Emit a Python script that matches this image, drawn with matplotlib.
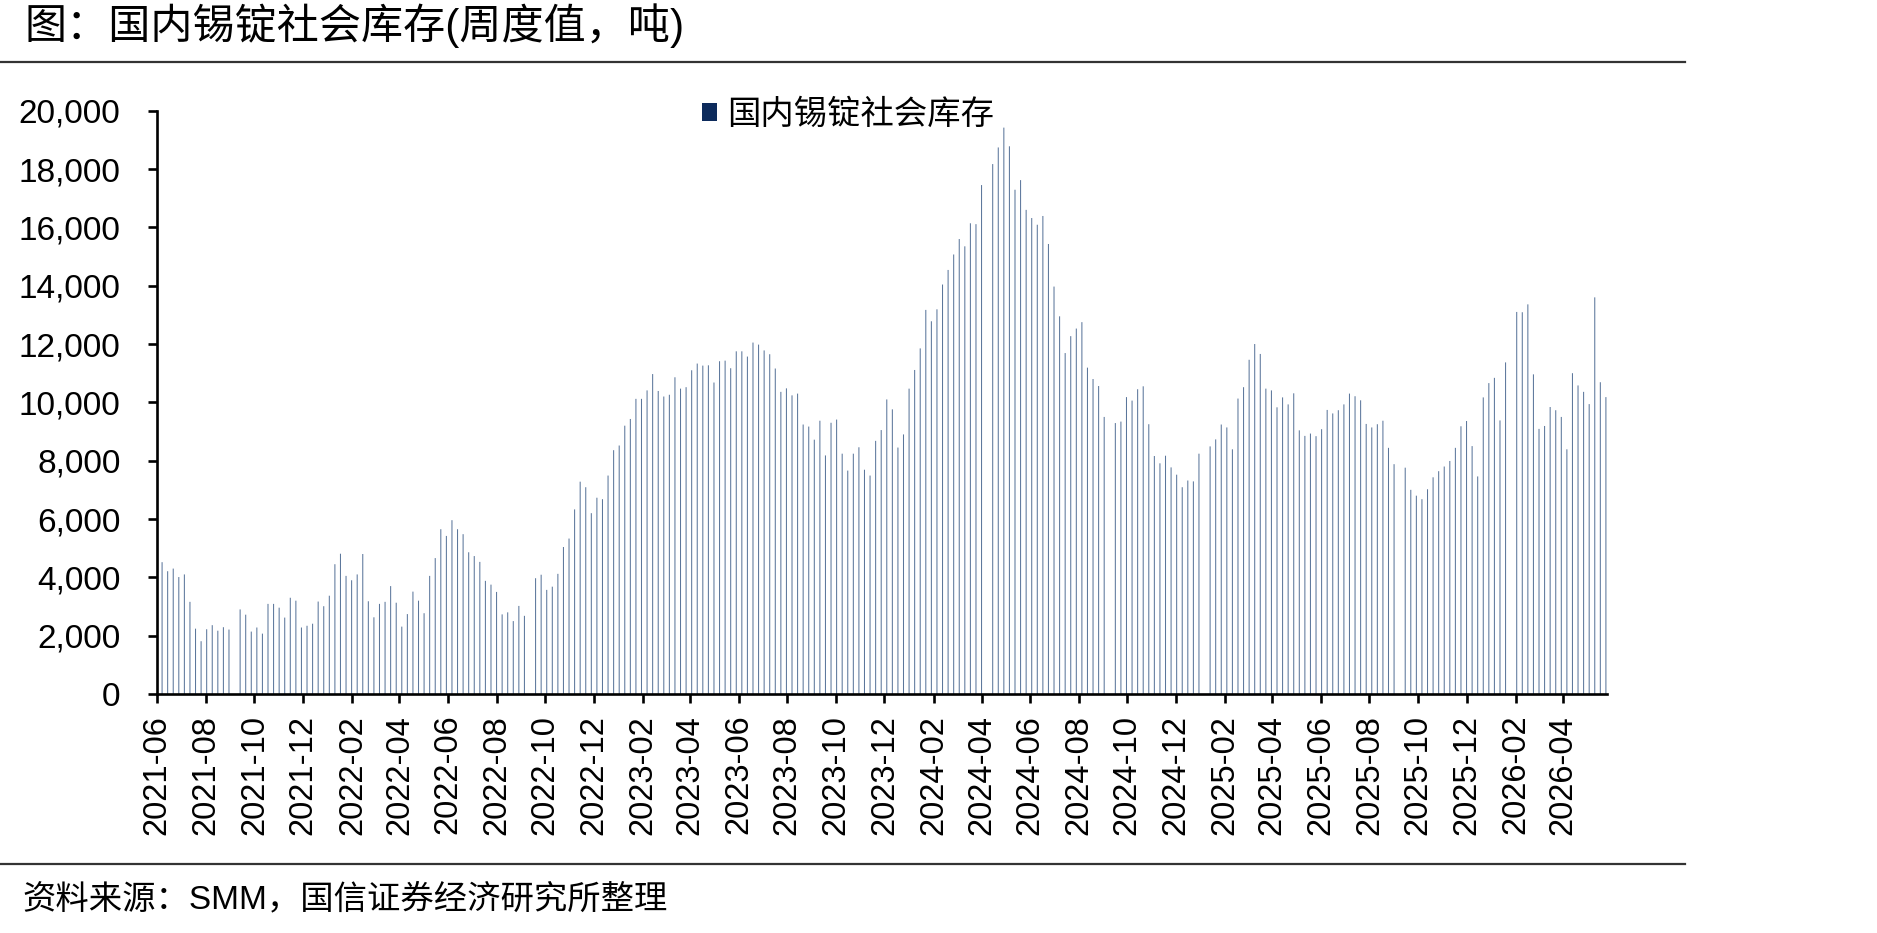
import numpy as np
import pandas as pd
import matplotlib
matplotlib.use("Agg")
import matplotlib.pyplot as plt
import matplotlib.dates as mdates
from matplotlib.patches import Patch
from matplotlib.lines import Line2D
from matplotlib.ticker import FuncFormatter

plt.rcParams['font.family'] = ['Liberation Sans', 'Noto Sans CJK SC', 'DejaVu Sans']

# ---- data ----
title = "图：国内锡锭社会库存(周度值，吨)"
source = "资料来源：SMM，国信证券经济研究所整理"
series_name = "国内锡锭社会库存"
first_week = "2021-06-07"   # weekly observations, None = week without data
inventory = [
    4520, 4210, 4300, 4010, 4100, 3160, 2240, 1810, 2220, 2360,
    2170, 2290, 2210, None, 2900, 2720, 2140, 2280, 2070, 3090,
    3090, 2960, 2620, 3300, 3200, 2280, 2340, 2410, 3170, 3010,
    3370, 4450, 4810, 4050, 3900, 4100, 4800, 3180, 2630, 3090,
    3160, 3700, 3130, 2310, 2740, 3510, 3200, 2770, 4050, 4660,
    5650, 5420, 5960, 5650, 5480, 4860, 4730, 4530, 3880, 3750,
    3500, 2730, 2800, 2500, 3020, 2680, None, 3970, 4090, 3570,
    3680, 4120, 5040, 5330, 6330, 7280, 7090, 6200, 6730, 6680,
    7490, 8360, 8520, 9200, 9430, 10120, 10120, 10410, 10970, 10390,
    10200, 10260, 10860, 10470, 10520, 11100, 11330, 11260, 11270, 10680,
    11410, 11430, 11170, 11750, 11750, 11570, 12050, 11980, 11780, 11650,
    11160, 10360, 10480, 10240, 10300, 9240, 9170, 8720, 9370, 8180,
    9300, 9410, 8240, 7660, 8240, 8460, 7690, 7490, 8680, 9050,
    10100, 9760, 8450, 8900, 10470, 11110, 11850, 13170, 12780, 13190,
    14040, 14540, 15070, 15600, 15350, 16140, 16110, 17450, None, 18170,
    18740, 19420, 18780, 17290, 17620, 16600, 16320, 16090, 16390, 15430,
    13970, 12950, 11690, 12270, 12530, 12750, 11190, 10800, 10560, 9500,
    None, 9290, 9340, 10180, 10060, 10450, 10550, 9250, 8160, 7910,
    8170, 7770, 7520, 7090, 7320, 7290, 8240, None, 8490, 8730,
    9240, 9140, 8390, 10130, 10520, 11460, 12000, 11660, 10470, 10410,
    9830, 10170, 9930, 10310, 9040, 8850, 8930, 8840, 9080, 9740,
    9620, 9730, 9930, 10300, 10210, 10070, 9260, 9140, 9250, 9370,
    8440, 7880, None, 7760, 7000, 6800, 6680, 7020, 7430, 7640,
    7800, 7990, 8440, 9180, 9360, 8500, 7460, 10170, 10660, 10840,
    9380, 11370, None, 13100, 13090, 13360, 10960, 9090, 9190, 9840,
    9730, 9500, 8390, 11000, 10580, 10360, 9940, 13600, 10690, 10180,
]
y_ticks = list(range(0, 20001, 2000))
x_start, x_end = "2021-06-01", "2026-05-26"

# ---- build ----
dates = pd.date_range(first_week, periods=len(inventory), freq="7D")
vals = pd.Series(inventory, index=dates, dtype=float)
vals = vals.dropna()

W, H = 1877, 933
fig = plt.figure(figsize=(W / 100, H / 100), dpi=100)
ax = fig.add_axes([157.3 / W, 1 - 694 / H, (1606.7 - 157.3) / W, (694 - 110.7) / H])

bars = ax.bar(vals.index, vals.values, width=1.3, color="#5b769b", linewidth=0, align="center")
for b in bars:
    b.set_snap(False)

ax.set_xlim(pd.Timestamp(x_start), pd.Timestamp(x_end))
ax.set_ylim(0, 20000)
ax.set_yticks(y_ticks)
ax.yaxis.set_major_formatter(FuncFormatter(lambda v, p: f"{v:,.0f}"))
ax.xaxis.set_major_locator(mdates.MonthLocator(bymonth=[2, 4, 6, 8, 10, 12]))
ax.xaxis.set_major_formatter(mdates.DateFormatter("%Y-%m"))

for s in ["top", "right"]:
    ax.spines[s].set_visible(False)
for s in ["left", "bottom"]:
    ax.spines[s].set_linewidth(1.9)
    ax.spines[s].set_color("black")

ax.tick_params(axis="y", direction="out", length=6.5, width=1.9, pad=20, labelsize=24)
ax.tick_params(axis="x", direction="out", length=6.5, width=1.9, pad=8.5, labelsize=23.5,
               labelrotation=90)
for lab in ax.get_xticklabels() + ax.get_yticklabels():
    lab.set_family("Liberation Sans")

leg = ax.legend(handles=[Patch(facecolor="#0d2b5c", edgecolor="none")], labels=[series_name],
                loc="center left", bbox_to_anchor=(702 / W, 1 - 114 / H),
                bbox_transform=fig.transFigure, frameon=False, fontsize=24,
                handlelength=0.45, handleheight=0.45, handletextpad=0.3,
                borderpad=0, borderaxespad=0)
for t in leg.get_texts():
    t.set_family(["Noto Sans CJK SC", "DejaVu Sans"])

fig.text(24 / W, 1 - 26 / H, title, fontsize=30.3, va="center", ha="left",
         family=["Liberation Sans", "Noto Sans CJK SC"])
fig.text(22 / W, 1 - 900 / H, source, fontsize=24, va="center", ha="left",
         family=["Liberation Sans", "Noto Sans CJK SC"])

for yy in (62, 864):
    fig.add_artist(Line2D([0, 1685 / W], [1 - yy / H, 1 - yy / H], transform=fig.transFigure,
                          color="#333333", linewidth=1.6))

fig.savefig("out.png", dpi=100)
